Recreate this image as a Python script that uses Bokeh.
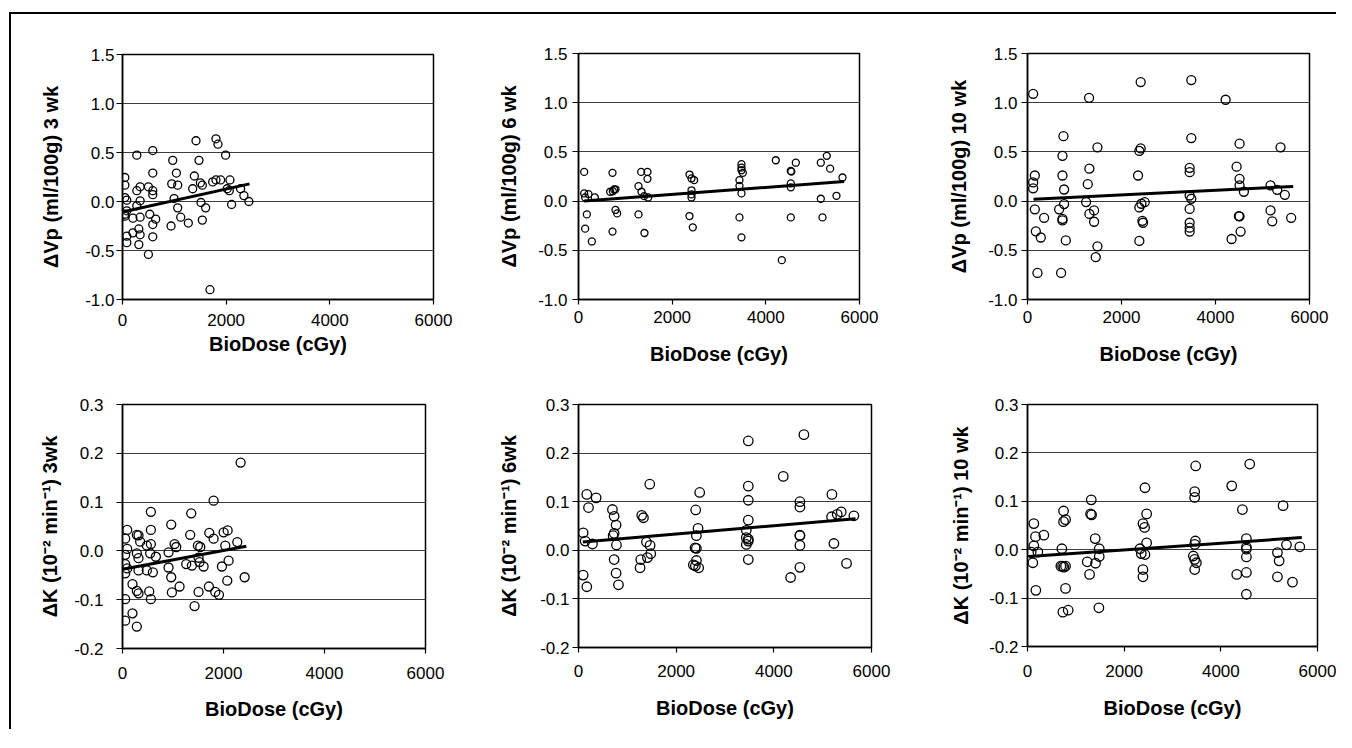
from bokeh.plotting import figure
from bokeh.layouts import row, column
from bokeh.models import Range1d, FixedTicker
from bokeh.embed import file_html
from bokeh.resources import INLINE

# ---------------- data ----------------
x_ticks = [0, 2000, 4000, 6000]
x_tick_labels = ["0", "2000", "4000", "6000"]
x_title = "BioDose (cGy)"

vp_ticks = [-1.0, -0.5, 0.0, 0.5, 1.0, 1.5]
vp_tick_labels = ["-1.0", "-0.5", "0.0", "0.5", "1.0", "1.5"]
k_ticks = [-0.2, -0.1, 0.0, 0.1, 0.2, 0.3]
k_tick_labels = ["-0.2", "-0.1", "0.0", "0.1", "0.2", "0.3"]

titles = ["\u0394Vp (ml/100g) 3 wk", "\u0394Vp (ml/100g) 6 wk", "\u0394Vp (ml/100g) 10 wk",
          "\u0394K (10\u207b\u00b2 min\u207b\u00b9) 3wk", "\u0394K (10\u207b\u00b2 min\u207b\u00b9) 6wk",
          "\u0394K (10\u207b\u00b2 min\u207b\u00b9) 10 wk"]

vp3_x = [45, 45, 45, 83, 45, 45, 83, 83, 83, 200,
         200, 276, 276, 276, 315, 340, 340, 340, 340, 315,
         500, 500, 526, 584, 584, 584, 584, 584, 584, 640,
         937, 950, 969, 995, 1040, 1065, 1065, 1123, 1270, 1354,
         1386, 1418, 1476, 1502, 1514, 1540, 1540, 1604, 1688, 1740,
         1803, 1842, 1803, 1893, 1989, 2020, 2060, 2073, 2105, 2278,
         2342, 2438]
vp3_y = [0.245, 0.167, 0.04, 0.014, -0.13, -0.15, -0.095, -0.354, -0.42, -0.17,
         -0.32, 0.473, 0.11, -0.044, -0.28, 0.15, 0.007, -0.16, -0.34, -0.44,
         0.15, -0.54, -0.13, 0.52, 0.29, 0.11, 0.07, -0.235, -0.36, -0.18,
         -0.25, 0.18, 0.42, 0.03, 0.29, 0.167, -0.065, -0.16, -0.22, 0.13,
         0.26, 0.62, 0.42, 0.19, -0.01, 0.167, -0.19, -0.065, -0.9, 0.2,
         0.64, 0.585, 0.22, 0.22, 0.473, 0.13, 0.11, 0.22, -0.03, 0.13,
         0.06, 0.0]
vp3_fit_x = [20, 2450]
vp3_fit_y = [-0.105, 0.18]

vp6_x = [121, 121, 142, 213, 178, 142, 285, 349, 726, 676,
         733, 761, 790, 790, 825, 726, 1281, 1345, 1338, 1473,
         1473, 1402, 1487, 1281, 1409, 2370, 2413, 2470, 2413, 2413,
         2413, 2370, 2441, 3480, 3480, 3480, 3509, 3437, 3437, 3480,
         3437, 3480, 4213, 4341, 4533, 4545, 4640, 4533, 4533, 4533,
         5174, 5302, 5373, 5174, 5210, 5508, 5637]
vp6_y = [0.297, 0.078, 0.037, 0.071, -0.135, -0.28, -0.41, 0.037, 0.287, 0.095,
         0.10, 0.118, 0.12, -0.09, -0.125, -0.31, 0.152, 0.095, 0.297, 0.297,
         0.226, 0.05, 0.037, -0.135, -0.324, 0.27, 0.23, 0.213, 0.11, 0.068,
         0.037, -0.152, -0.267, 0.375, 0.34, 0.314, 0.287, 0.213, 0.155, 0.078,
         -0.166, -0.368, 0.415, -0.6, 0.307, 0.30, 0.39, 0.18, 0.14, -0.166,
         0.39, 0.46, 0.33, 0.024, -0.166, 0.054, 0.24]
vp6_fit_x = [121, 5672]
vp6_fit_y = [0.0, 0.2]

vp10_x = [120, 120, 120, 156, 156, 177, 283, 212, 354, 765,
          744, 744, 779, 779, 673, 744, 744, 815, 715, 1310,
          1317, 1282, 1247, 1317, 1417, 1417, 1488, 1488, 1452, 2408,
          2408, 2380, 2352, 2380, 2423, 2494, 2444, 2458, 2380, 3485,
          3485, 3450, 3450, 3450, 3485, 3450, 3450, 3450, 3450, 4215,
          4342, 4449, 4512, 4512, 4512, 4604, 4497, 4512, 4534, 5171,
          5171, 5207, 5313, 5384, 5476, 5610]
vp10_y = [1.09, 0.19, 0.13, 0.26, -0.084, -0.307, -0.37, -0.73, -0.17, 0.66,
          0.46, 0.26, 0.118, -0.03, -0.084, -0.18, -0.196, -0.40, -0.73, 1.05,
          0.33, 0.172, -0.01, -0.13, -0.095, -0.21, 0.547, -0.46, -0.57, 1.21,
          0.535, 0.51, 0.26, -0.064, -0.027, -0.01, -0.20, -0.22, -0.405, 1.23,
          0.64, 0.338, 0.294, 0.057, 0.024, -0.08, -0.22, -0.27, -0.31, 1.03,
          -0.385, 0.35, 0.584, 0.226, 0.16, 0.095, -0.152, -0.155, -0.31, 0.16,
          -0.095, -0.206, 0.115, 0.547, 0.064, -0.17]
vp10_fit_x = [128, 5653]
vp10_fit_y = [0.02, 0.149]

k3_x = [53, 93, 93, 53, 53, 93, 53, 53, 53, 198,
        198, 284, 284, 317, 284, 317, 350, 317, 284, 317,
        482, 482, 562, 562, 562, 548, 601, 661, 529, 562,
        965, 912, 912, 965, 978, 1031, 1064, 1130, 1262, 1341,
        1361, 1374, 1427, 1493, 1540, 1506, 1526, 1506, 1606, 1718,
        1804, 1711, 1804, 1837, 1910, 1969, 2002, 2082, 2035, 2101,
        2075, 2273, 2339, 2419]
k3_y = [0.025, 0.043, 0.004, -0.008, -0.027, -0.036, -0.046, -0.099, -0.143, -0.068,
        -0.128, -0.155, 0.033, 0.032, -0.005, -0.015, 0.019, -0.04, -0.082, -0.087,
        0.011, -0.04, 0.08, 0.043, 0.014, -0.005, -0.044, -0.012, -0.083, -0.099,
        0.054, -0.003, -0.034, -0.054, -0.085, 0.014, 0.008, -0.073, -0.027, 0.033,
        0.077, -0.03, -0.113, 0.011, 0.008, -0.014, -0.023, -0.084, -0.032, 0.037,
        0.025, -0.073, 0.103, -0.084, -0.09, -0.032, 0.038, 0.042, 0.011, -0.02,
        -0.061, 0.018, 0.181, -0.054]
k3_fit_x = [26, 2452]
k3_fit_y = [-0.037, 0.0096]

k6_x = [95, 95, 136, 170, 170, 205, 286, 361, 695, 730,
        770, 730, 709, 777, 730, 770, 818, 1295, 1330, 1459,
        1391, 1466, 1480, 1411, 1275, 1261, 2400, 2482, 2448, 2414,
        2387, 2414, 2414, 2352, 2393, 2461, 3477, 3477, 3477, 3477,
        3436, 3436, 3477, 3436, 3477, 3477, 4193, 4343, 4616, 4534,
        4534, 4534, 4534, 4534, 4534, 5189, 5182, 5230, 5298, 5380,
        5489, 5639]
k6_y = [0.036, -0.051, 0.019, 0.115, -0.075, 0.088, 0.013, 0.108, 0.084, 0.07,
        0.052, 0.035, 0.03, 0.011, -0.019, -0.047, -0.071, 0.072, 0.067, 0.136,
        0.017, 0.01, -0.007, -0.015, -0.019, -0.036, 0.083, 0.119, 0.045, 0.03,
        0.005, 0.004, -0.021, -0.03, -0.032, -0.036, 0.225, 0.132, 0.103, 0.062,
        0.041, 0.026, 0.023, 0.012, 0.019, -0.019, 0.152, -0.056, 0.238, 0.1,
        0.089, 0.031, 0.03, 0.01, -0.035, 0.115, 0.069, 0.014, 0.074, 0.079,
        -0.027, 0.071]
k6_fit_x = [89, 5673]
k6_fit_y = [0.017, 0.065]

k10_x = [131, 166, 131, 76, 110, 214, 338, 173, 746, 746,
         787, 711, 690, 725, 753, 787, 787, 732, 842, 1319,
         1305, 1326, 1401, 1484, 1484, 1408, 1236, 1284, 1477, 2430,
         2465, 2389, 2423, 2465, 2327, 2354, 2430, 2389, 2389, 3480,
         3459, 3459, 3473, 3459, 3431, 3459, 3494, 3459, 4225, 4446,
         4329, 4598, 4529, 4529, 4529, 4529, 4529, 4529, 5171, 5206,
         5171, 5288, 5358, 5482, 5634]
k10_y = [0.054, 0.027, 0.008, -0.005, -0.027, -0.005, 0.03, -0.084, 0.08, 0.058,
         0.062, 0.002, -0.034, -0.034, -0.036, -0.034, -0.08, -0.129, -0.125, 0.103,
         0.074, 0.072, 0.023, 0.002, -0.014, -0.028, -0.025, -0.051, -0.12, 0.128,
         0.074, 0.054, 0.046, 0.014, 0.002, -0.008, -0.01, -0.041, -0.056, 0.173,
         0.12, 0.108, 0.018, 0.011, -0.013, -0.02, -0.027, -0.041, 0.132, 0.083,
         -0.051, 0.177, 0.023, 0.005, 0.001, -0.015, -0.047, -0.092, -0.006, -0.023,
         -0.056, 0.091, 0.01, -0.067, 0.006]
k10_fit_x = [28, 5675]
k10_fit_y = [-0.014, 0.025]

FONT = "Liberation Sans"


def panel(xs, ys, fx, fy, yticks, ylabels, ytitle, fw, fh, bl, br, bt, bb,
          msize, ystand, ylstand, xstand, xlstand):
    p = figure(frame_width=fw, frame_height=fh,
               min_border_left=bl, min_border_right=br,
               min_border_top=bt, min_border_bottom=bb,
               x_range=Range1d(0, 6000), y_range=Range1d(yticks[0], yticks[-1]),
               output_backend="svg", toolbar_location=None)
    p.background_fill_color = "white"
    p.border_fill_color = "white"
    p.outline_line_color = "black"
    p.outline_line_width = 1.5
    p.xgrid.grid_line_color = None
    p.ygrid.ticker = FixedTicker(ticks=yticks)
    p.ygrid.grid_line_color = "#3c3c3c"
    p.ygrid.grid_line_width = 1

    xa = p.xaxis[0]
    xa.ticker = FixedTicker(ticks=x_ticks)
    xa.major_label_overrides = {t: l for t, l in zip(x_ticks, x_tick_labels)}
    xa.axis_label = x_title
    ya = p.yaxis[0]
    ya.ticker = FixedTicker(ticks=yticks)
    ya.major_label_overrides = {t: l for t, l in zip(yticks, ylabels)}
    ya.axis_label = ytitle
    for ax in (xa, ya):
        ax.axis_line_color = "black"
        ax.axis_line_width = 1.5
        ax.major_tick_line_color = "black"
        ax.major_tick_line_width = 1.2
        ax.major_tick_in = 0
        ax.minor_tick_line_color = None
        ax.major_label_text_font = FONT
        ax.major_label_text_font_size = "17px"
        ax.major_label_text_color = "black"
        ax.axis_label_text_font = FONT
        ax.axis_label_text_font_style = "bold"
        ax.axis_label_text_color = "black"
    xa.major_tick_out = 5
    ya.major_tick_out = 6
    xa.axis_label_text_font_size = "20px"
    ya.axis_label_text_font_size = "20px"
    ya.major_label_standoff = ystand
    ya.axis_label_standoff = ylstand
    xa.major_label_standoff = xstand
    xa.axis_label_standoff = xlstand

    p.scatter(xs, ys, marker="circle", size=msize, fill_color=None,
              line_color="black", line_width=1.3)
    p.line(fx, fy, line_color="black", line_width=3)
    return p


p1 = panel(vp3_x, vp3_y, vp3_fit_x, vp3_fit_y, vp_ticks, vp_tick_labels, titles[0],
           311, 245, 111, 22, 40, 76, 8, 2, 20, 9, 4)
p2 = panel(vp6_x, vp6_y, vp6_fit_x, vp6_fit_y, vp_ticks, vp_tick_labels, titles[1],
           281, 246, 123, 46, 39, 76, 7, 5, 15, 6, 17)
p3 = panel(vp10_x, vp10_y, vp10_fit_x, vp10_fit_y, vp_ticks, vp_tick_labels, titles[2],
           282, 246, 122, 27, 39, 76, 9, 4, 15, 6, 17)
p4 = panel(k3_x, k3_y, k3_fit_x, k3_fit_y, k_ticks, k_tick_labels, titles[3],
           303, 244, 110, 31, 29, 81, 9, 13, 10, 13, 16)
p5 = panel(k6_x, k6_y, k6_fit_x, k6_fit_y, k_ticks, k_tick_labels, titles[4],
           293, 243, 123, 34, 29, 82, 9.5, 3, 17, 12, 17)
p6 = panel(k10_x, k10_y, k10_fit_x, k10_fit_y, k_ticks, k_tick_labels, titles[5],
           290, 242, 122, 19, 29, 83, 9.5, 3, 14, 13, 17)

grid = row(column(p1, p4), column(p2, p5), column(p3, p6))
layout = column(grid, styles={"border-top": "2px solid black",
                              "border-left": "2px solid black"},
                margin=(12, 0, 0, 9))

open("out.html", "w").write(file_html(layout, INLINE))
